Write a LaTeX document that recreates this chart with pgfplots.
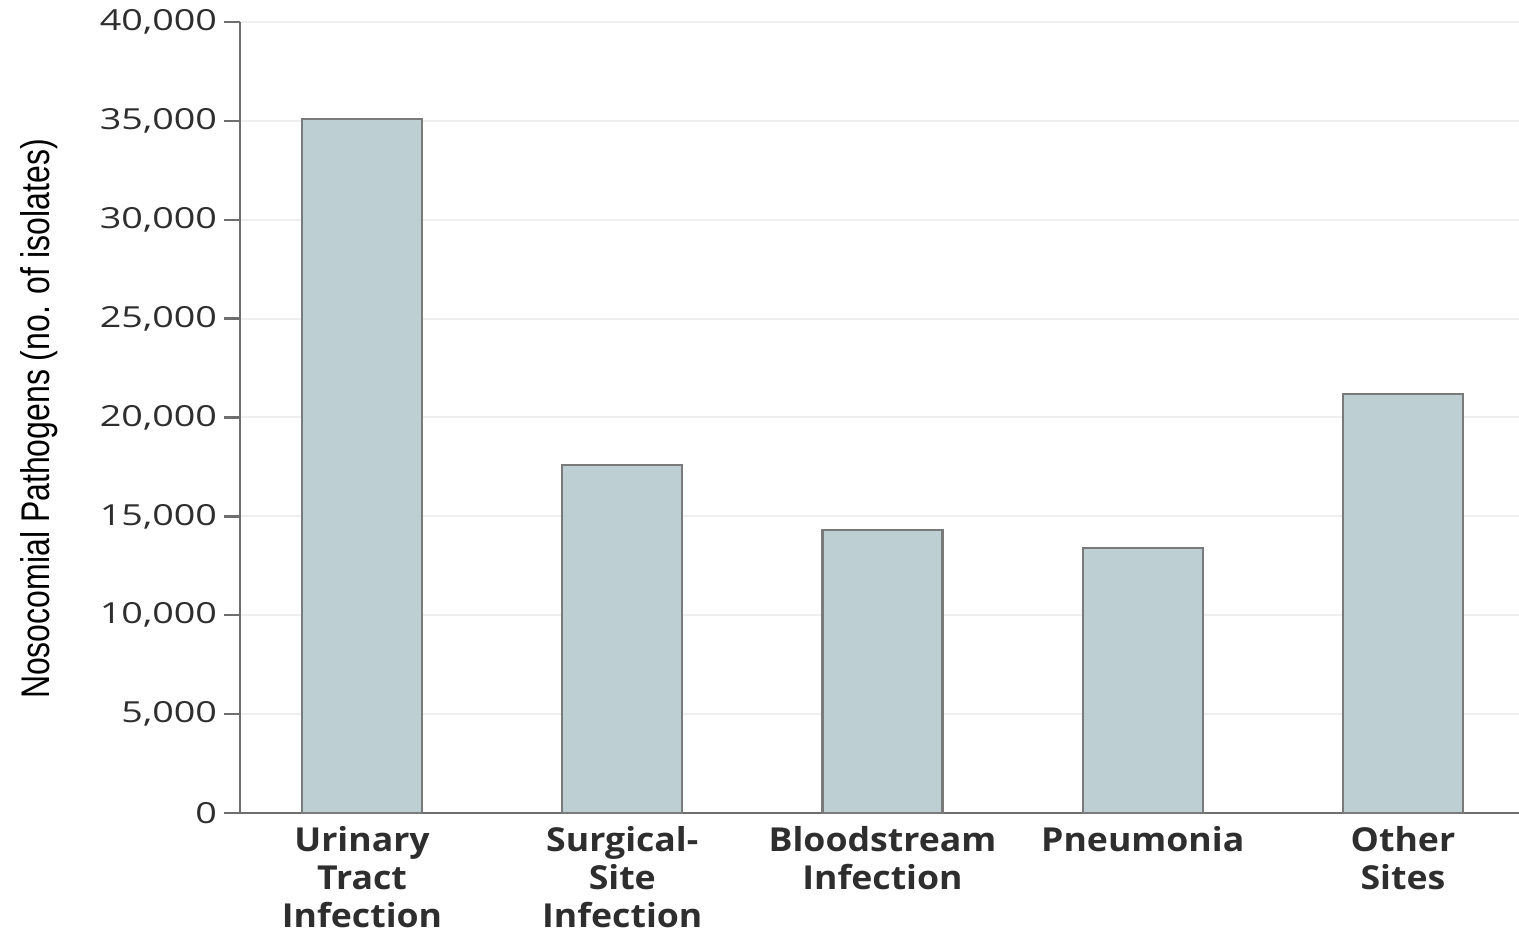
\documentclass[border=0pt]{standalone}
\usepackage{pgfplots}
\pgfplotsset{compat=1.18}
\usepackage{fontspec}
\setmainfont{Open Sans}
\newfontfamily\tickfont[FakeStretch=1.3]{Open Sans}
\newfontfamily\catfont[FakeStretch=1.08]{Open Sans}
\newfontfamily\narrowfont[FakeStretch=0.8]{Liberation Sans}
\definecolor{barfill}{HTML}{BDCFD3}
\definecolor{baredge}{HTML}{7A7A7A}
\definecolor{axisgray}{HTML}{6E6E6E}
\definecolor{gridgray}{HTML}{EFEFEF}
\definecolor{txt}{HTML}{2E2E2E}
\begin{document}
\begin{tikzpicture}
	\useasboundingbox (-120pt,-61pt) rectangle (639.5pt,406.5pt);
	\begin{axis}[
			at={(0,0)}, anchor=south west,
			scale only axis,
			width=639.5pt,
			height=395.5pt,
			xmin=-0.469, xmax=4.446,
			ymin=0, ymax=40000,
			ytick={0,5000,...,40000},
			xtick={0,1,2,3,4},
			xticklabels={Urinary\\Tract\\Infection, Surgical-\\Site\\Infection, Bloodstream\\Infection, Pneumonia, Other\\Sites},
			x tick label style={font=\catfont\bfseries\fontsize{16.5}{19.2}\selectfont, text=txt, align=center, anchor=north, yshift=5pt},
			y tick label style={font=\tickfont\fontsize{14.5}{16}\selectfont, text=txt},
			/pgf/number format/assume math mode=true,
			/pgf/number format/1000 sep={,},
			scaled y ticks=false,
			axis x line*=bottom,
			axis y line*=left,
			axis line style={axisgray, line width=1.2pt},
			x axis line style={-},
			y axis line style={-},
			major x tick style={draw=none},
			major y tick style={axisgray, line width=1.2pt},
			tick align=outside,
			major tick length=8pt,
			ymajorgrids,
			grid style={gridgray, line width=1pt},
			ylabel={\narrowfont Nosocomial Pathogens (no. of isolates)},
			ylabel style={font=\fontsize{20}{22}\selectfont, text=black, at={(axis description cs:-0.137,0.498)}, anchor=south},
			ybar,
			bar width=60pt,
			clip=false
		]
		\addplot[fill=barfill, draw=baredge, line width=1.2pt] coordinates {
				(0, 35100)
				(1, 17600)
				(2, 14300)
				(3, 13400)
				(4, 21200)
			};
	\end{axis}
\end{tikzpicture}
\end{document}
